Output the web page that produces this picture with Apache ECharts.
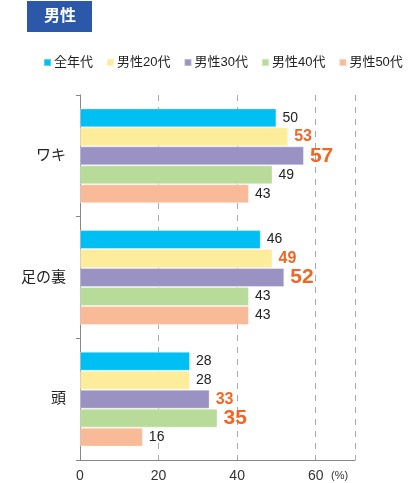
<!DOCTYPE html>
<html>
<head>
<meta charset="utf-8">
<script src="https://cdn.jsdelivr.net/npm/echarts@6/dist/echarts.min.js"></script>
<style>
  html, body { margin: 0; padding: 0; background: #fff; }
  #chart { width: 420px; height: 483px; }
</style>
</head>
<body>
<div id="chart"></div>
<script>
// Chart data
const categories = ['ワキ', '足の裏', '頭'];
const seriesNames = ['全年代', '男性20代', '男性30代', '男性40代', '男性50代'];
const allAges = [50, 46, 28];
const age20s = [53, 49, 28];
const age30s = [57, 52, 33];
const age40s = [49, 43, 35];
const age50s = [43, 43, 16];
const xTicks = [0, 20, 40, 60];

const colors = ['#00bff2', '#fded9b', '#9a92c2', '#b8db99', '#f9ba98'];
const seriesValues = [allAges, age20s, age30s, age40s, age50s];
const FONT = '"Liberation Sans", "Noto Sans CJK JP", sans-serif';

// rank of each value within its category (0 = highest)
function rankIn(catIdx, value) {
    const vals = seriesValues.map(s => s[catIdx]);
    return vals.filter(v => v > value).length;
}

const chart = echarts.init(document.getElementById('chart'));

const option = {
    animation: false,
    textStyle: { fontFamily: FONT },
    color: colors,
    graphic: [
        {
            type: 'rect',
            shape: { x: 27, y: 1, width: 65, height: 31 },
            style: { fill: '#2b58a8' }
        },
        {
            type: 'text',
            x: 60, y: 17,
            style: {
                text: '男性', fill: '#fff', font: 'bold 16px ' + FONT,
                align: 'center', verticalAlign: 'middle'
            }
        },
        {
            type: 'text',
            x: 331, y: 476,
            style: {
                text: '(%)', fill: '#333', font: '11px ' + FONT,
                align: 'left', verticalAlign: 'middle'
            }
        }
    ],
    legend: {
        top: 51,
        left: 38,
        itemWidth: 7,
        itemHeight: 7,
        itemGap: 13,
        icon: 'rect',
        textStyle: { fontSize: 13, color: '#222', padding: [0, 0, 0, -2] },
        data: seriesNames
    },
    grid: { left: 80, right: 65, top: 95, bottom: 22, containLabel: false },
    xAxis: {
        type: 'value',
        min: 0,
        max: 70,
        interval: 20,
        axisLine: { show: true, lineStyle: { color: '#888' } },
        axisTick: { show: false },
        axisLabel: {
            fontSize: 14, color: '#333', margin: 9,
            formatter: v => xTicks.includes(v) ? String(v) : ''
        },
        splitLine: {
            show: true,
            lineStyle: { color: '#aaa', type: [6, 6] }
        }
    },
    yAxis: {
        type: 'category',
        inverse: true,
        data: categories,
        axisLine: { show: true, lineStyle: { color: '#888' } },
        axisTick: { show: true, length: 4, lineStyle: { color: '#888' } },
        axisLabel: { fontSize: 15, color: '#222', margin: 14 }
    },
    series: seriesNames.map((name, si) => ({
        name: name,
        type: 'bar',
        barGap: 0,
        barCategoryGap: '22%',
        itemStyle: { borderColor: 'rgba(255,255,255,0.35)', borderWidth: 1 },
        label: {
            show: true,
            position: 'right',
            distance: 6,
            formatter: p => {
                const r = rankIn(p.dataIndex, p.value);
                if (r === 0) return '{big|' + p.value + '}';
                if (r === 1) return '{mid|' + p.value + '}';
                return '{norm|' + p.value + '}';
            },
            rich: {
                norm: { fontSize: 14, color: '#222' },
                mid: { fontSize: 16, color: '#f26522', fontWeight: 'bold' },
                big: { fontSize: 21, color: '#f26522', fontWeight: 'bold' }
            }
        },
        data: seriesValues[si]
    }))
};

chart.setOption(option);
</script>
</body>
</html>
